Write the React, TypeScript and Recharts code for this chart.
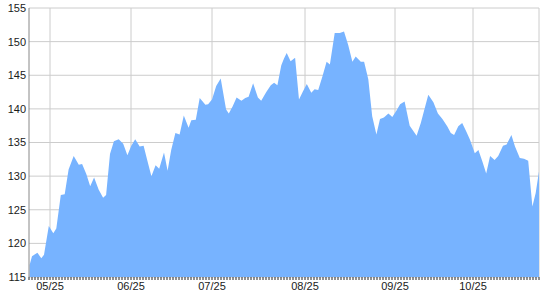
import React from 'react';
import { AreaChart, Area, XAxis, YAxis, CartesianGrid } from 'recharts';

// x positions in calendar-day units from the left edge of the chart
const dayIdx = [
  0.2, 1.0, 2.8, 4.1, 5.0, 6.6, 8.1, 9.1, 10.6, 11.9, 13.2, 14.9, 16.6, 17.7, 19.1, 20.4, 21.7, 23.2, 24.7, 25.7,
  27.0, 28.3, 29.9, 31.4, 32.8, 34.1, 35.4, 36.9, 38.2, 39.4, 40.8, 42.2, 43.4, 45.0, 46.2, 47.4, 48.8, 50.2, 51.6, 53.2,
  54.1, 55.6, 56.9, 58.8, 59.7, 61.0, 62.4, 63.9, 65.7, 66.6, 67.9, 69.2, 70.8, 72.1, 73.2, 74.7, 76.3, 77.4, 79.1, 80.6,
  81.7, 82.8, 84.1, 85.0, 85.9, 87.2, 88.7, 90.0, 91.3, 92.6, 94.1, 95.2, 96.4, 97.8, 99.2, 100.3, 101.9, 103.6, 105.0, 106.4,
  107.8, 108.9, 110.6, 111.7, 113.1, 114.4, 115.8, 117.0, 118.3, 119.8, 121.1, 122.4, 123.7, 125.2, 126.9, 129.2, 130.6, 133.1, 134.8, 136.3,
  137.8, 139.4, 140.6, 141.7, 143.1, 144.4, 145.8, 147.0, 148.6, 149.8, 151.1, 152.4, 153.7, 155.2, 156.4, 158.0, 159.2, 160.8, 162.0, 163.6,
  165.0, 166.4, 167.8, 168.9, 170.0,
];

const price = [
  116.8, 118.1, 118.6, 117.8, 118.3, 122.6, 121.5, 122.2, 127.2, 127.3, 131.0, 133.0, 131.7, 131.8, 130.3, 128.5, 129.8, 128.0, 126.8, 127.2,
  133.3, 135.2, 135.5, 134.8, 133.1, 134.5, 135.5, 134.4, 134.5, 132.4, 130.0, 131.6, 131.1, 133.5, 130.8, 133.9, 136.4, 136.2, 139.0, 137.2,
  138.3, 138.4, 141.6, 140.6, 140.7, 141.4, 143.4, 144.5, 139.9, 139.3, 140.4, 141.7, 141.2, 141.6, 141.8, 143.8, 141.7, 141.2, 142.5, 143.5,
  143.9, 143.5, 146.5, 147.5, 148.3, 147.1, 147.6, 141.4, 142.6, 143.7, 142.4, 142.9, 142.8, 144.8, 147.0, 146.6, 151.3, 151.3, 151.5, 149.5,
  147.0, 147.8, 147.0, 147.0, 144.4, 138.9, 136.2, 138.5, 138.7, 139.3, 138.8, 139.7, 140.7, 141.1, 137.5, 136.0, 137.9, 142.1, 141.0, 139.3,
  138.5, 137.4, 136.4, 136.1, 137.4, 137.9, 136.6, 135.4, 133.4, 133.9, 132.2, 130.4, 133.0, 132.4, 133.0, 134.5, 134.7, 136.1, 134.4, 132.7,
  132.6, 132.3, 125.5, 127.5, 130.7,
];

const labelDays = [7, 34, 61, 92, 122, 148];
const labelText = ['05/25', '06/25', '07/25', '08/25', '09/25', '10/25'];
const yTicks = [115, 120, 125, 130, 135, 140, 145, 150, 155];
const DAY_MAX = 170;
const minorTicks = Array.from({ length: DAY_MAX + 1 }, (_, i) => i);

const data = dayIdx.map((d, i) => ({ day: d, price: price[i] }));

const FONT = '"Liberation Sans", Arial, sans-serif';

const XTick = (props: any) => {
  const { x, y, payload } = props;
  const k = labelDays.indexOf(payload.value);
  if (k < 0) return <g />;
  return (
    <text x={x} y={y} dy="0.71em" textAnchor="middle" fill="#1a1a1a" fontSize={11} fontFamily={FONT}>
      {labelText[k]}
    </text>
  );
};

export default function App() {
  return (
    <div style={{ position: 'absolute', left: 0, top: 0 }}>
      <AreaChart width={540} height={300} data={data} margin={{ top: 8, right: 1, bottom: 0, left: 0 }}>
        <CartesianGrid
          stroke="#cccccc"
          verticalCoordinatesGenerator={({ xAxis, offset }: any) => {
            const s = xAxis && xAxis.scale;
            return [...labelDays, DAY_MAX].map((d) =>
              typeof s === 'function' ? s(d) : offset.left + (d / DAY_MAX) * offset.width
            );
          }}
        />
        <XAxis
          dataKey="day"
          type="number"
          domain={[0, DAY_MAX]}
          ticks={minorTicks}
          interval={0}
          height={23}
          axisLine={false}
          tickLine={{ stroke: '#222' }}
          tickSize={3}
          tickMargin={2}
          tick={<XTick />}
        />
        <YAxis
          type="number"
          domain={[115, 155]}
          ticks={yTicks}
          interval={0}
          width={29}
          axisLine={{ stroke: '#888' }}
          tickLine={false}
          tickSize={0}
          tickMargin={3}
          tick={{ fill: '#1a1a1a', fontSize: 11, fontFamily: FONT }}
        />
        <Area
          type="linear"
          dataKey="price"
          fill="#77b3ff"
          fillOpacity={1}
          stroke="none"
          dot={false}
          activeDot={false}
          isAnimationActive={false}
        />
      </AreaChart>
    </div>
  );
}
